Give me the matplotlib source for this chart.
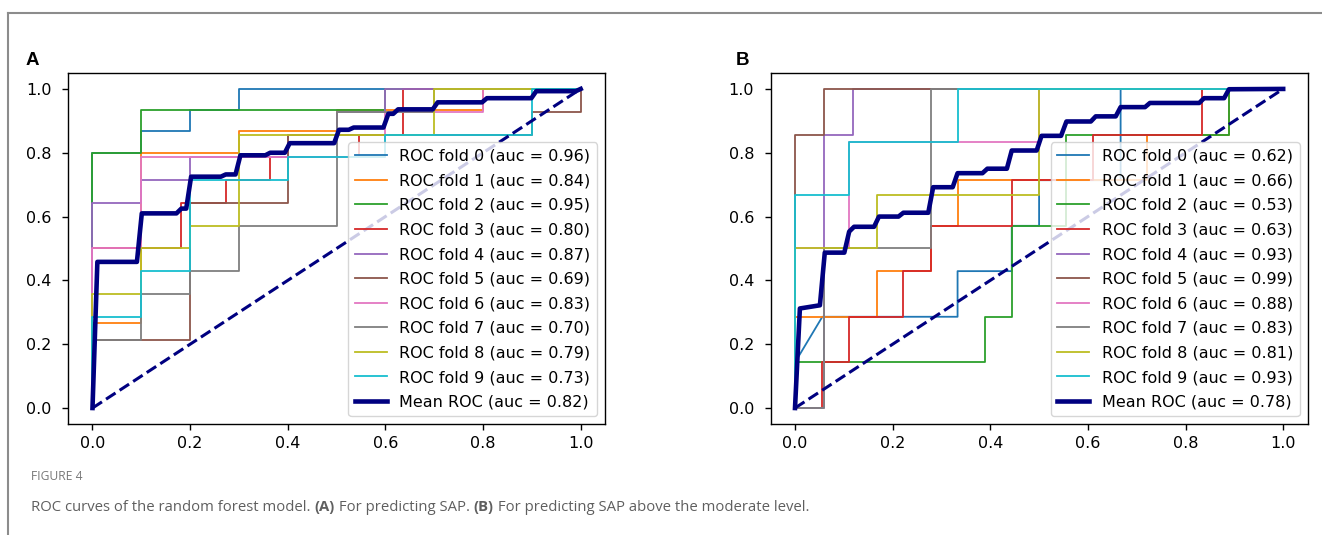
import matplotlib
matplotlib.use("Agg")
import matplotlib.pyplot as plt
from matplotlib.lines import Line2D

# values
auc_a = [0.96, 0.84, 0.95, 0.80, 0.87, 0.69, 0.83, 0.70, 0.79, 0.73]
auc_b = [0.62, 0.66, 0.53, 0.63, 0.93, 0.99, 0.88, 0.83, 0.81, 0.93]
mean_auc_a = 0.82
mean_auc_b = 0.78

# panel A, one step curve per fold
fpr_a = [
    [0, 0, 0.1, 0.1, 0.2, 0.2, 0.3, 0.3, 1.0],
    [0, 0, 0.1, 0.1, 0.3, 0.3, 0.5, 0.5, 0.8, 0.8, 1.0],
    [0, 0, 0.1, 0.1, 0.6, 0.6, 1.0],
    [0, 0, 0.182, 0.182, 0.273, 0.273, 0.364, 0.364, 0.545, 0.545, 0.636, 0.636, 1.0],
    [0, 0, 0.1, 0.1, 0.2, 0.2, 0.4, 0.4, 0.5, 0.5, 0.6, 0.6, 1.0],
    [0, 0, 0.2, 0.2, 0.4, 0.4, 0.9, 0.9, 1.0, 1.0],
    [0, 0, 0.1, 0.1, 0.6, 0.6, 0.8, 0.8, 1.0],
    [0, 0, 0.1, 0.1, 0.2, 0.2, 0.3, 0.3, 0.5, 0.5, 0.7, 0.7, 1.0],
    [0, 0, 0.1, 0.1, 0.2, 0.2, 0.3, 0.3, 0.7, 0.7, 1.0],
    [0, 0, 0.1, 0.1, 0.2, 0.2, 0.4, 0.4, 0.6, 0.6, 0.9, 0.9, 1.0],
]
tpr_a = [
    [0, 0.8, 0.8, 0.867, 0.867, 0.933, 0.933, 1.0, 1.0],
    [0, 0.267, 0.267, 0.8, 0.8, 0.867, 0.867, 0.933, 0.933, 1.0, 1.0],
    [0, 0.8, 0.8, 0.933, 0.933, 1.0, 1.0],
    [0, 0.5, 0.5, 0.643, 0.643, 0.714, 0.714, 0.786, 0.786, 0.857, 0.857, 1.0, 1.0],
    [0, 0.643, 0.643, 0.714, 0.714, 0.786, 0.786, 0.857, 0.857, 0.929, 0.929, 1.0, 1.0],
    [0, 0.214, 0.214, 0.643, 0.643, 0.857, 0.857, 0.929, 0.929, 1.0],
    [0, 0.5, 0.5, 0.786, 0.786, 0.929, 0.929, 1.0, 1.0],
    [0, 0.214, 0.214, 0.357, 0.357, 0.429, 0.429, 0.571, 0.571, 0.929, 0.929, 1.0, 1.0],
    [0, 0.357, 0.357, 0.5, 0.5, 0.571, 0.571, 0.857, 0.857, 1.0, 1.0],
    [0, 0.286, 0.286, 0.429, 0.429, 0.714, 0.714, 0.786, 0.786, 0.857, 0.857, 1.0, 1.0],
]
mean_fpr_a = [0, 0.010, 0.091, 0.101, 0.172, 0.182, 0.192, 0.202, 0.263, 0.273,
              0.293, 0.303, 0.354, 0.364, 0.394, 0.404, 0.495, 0.505, 0.525, 0.535,
              0.596, 0.606, 0.616, 0.626, 0.697, 0.707, 0.798, 0.808, 0.899, 0.909,
              0.990, 1.0]
mean_tpr_a = [0, 0.458, 0.458, 0.610, 0.610, 0.625, 0.625, 0.725, 0.725, 0.732,
              0.732, 0.792, 0.792, 0.800, 0.800, 0.830, 0.830, 0.872, 0.872, 0.879,
              0.879, 0.922, 0.922, 0.936, 0.936, 0.958, 0.958, 0.971, 0.971, 0.993,
              0.993, 1.0]

# panel B
fpr_b = [
    [0, 0, 0.056, 0.333, 0.333, 0.444, 0.444, 0.5, 0.5, 0.667, 0.667, 1.0],
    [0, 0, 0.167, 0.167, 0.278, 0.278, 0.333, 0.333, 0.722, 0.722, 0.889, 0.889, 1.0],
    [0, 0, 0.389, 0.389, 0.444, 0.444, 0.556, 0.556, 0.889, 0.889, 1.0],
    [0, 0.056, 0.056, 0.111, 0.111, 0.222, 0.222, 0.278, 0.278, 0.444, 0.444, 0.611, 0.611, 0.833, 0.833, 1.0],
    [0, 0.059, 0.059, 0.118, 0.118, 1.0],
    [0, 0, 0.059, 0.059, 1.0],
    [0, 0, 0.111, 0.111, 0.5, 0.5, 1.0],
    [0, 0.059, 0.059, 0.278, 0.278, 1.0],
    [0, 0, 0.167, 0.167, 0.5, 0.5, 1.0],
    [0, 0, 0.111, 0.111, 0.333, 0.333, 1.0],
]
tpr_b = [
    [0, 0.143, 0.286, 0.286, 0.429, 0.429, 0.571, 0.571, 0.714, 0.714, 1.0, 1.0],
    [0, 0.286, 0.286, 0.429, 0.429, 0.571, 0.571, 0.714, 0.714, 0.857, 0.857, 1.0, 1.0],
    [0, 0.143, 0.143, 0.286, 0.286, 0.571, 0.571, 0.857, 0.857, 1.0, 1.0],
    [0, 0, 0.143, 0.143, 0.286, 0.286, 0.429, 0.429, 0.571, 0.571, 0.714, 0.714, 0.857, 0.857, 1.0, 1.0],
    [0, 0, 0.857, 0.857, 1.0, 1.0],
    [0, 0.857, 0.857, 1.0, 1.0],
    [0, 0.5, 0.5, 0.833, 0.833, 1.0, 1.0],
    [0, 0, 0.5, 0.5, 1.0, 1.0],
    [0, 0.5, 0.5, 0.667, 0.667, 1.0, 1.0],
    [0, 0.667, 0.667, 0.833, 0.833, 1.0, 1.0],
]
mean_fpr_b = [0, 0.010, 0.051, 0.061, 0.101, 0.111, 0.121, 0.162, 0.172, 0.212,
              0.222, 0.273, 0.283, 0.323, 0.333, 0.384, 0.394, 0.434, 0.444, 0.495,
              0.505, 0.545, 0.556, 0.606, 0.616, 0.657, 0.667, 0.717, 0.727, 0.828,
              0.838, 0.879, 0.889, 1.0]
mean_tpr_b = [0, 0.312, 0.322, 0.487, 0.487, 0.553, 0.568, 0.568, 0.600, 0.600,
              0.612, 0.612, 0.692, 0.692, 0.736, 0.736, 0.750, 0.750, 0.807, 0.807,
              0.853, 0.853, 0.898, 0.898, 0.914, 0.914, 0.943, 0.943, 0.956, 0.956,
              0.971, 0.971, 0.999, 1.0]

plt.rcParams['font.family'] = 'DejaVu Sans'
plt.rcParams['font.size'] = 11.5
plt.rcParams['axes.linewidth'] = 1.0
plt.rcParams['xtick.major.size'] = 4.4
plt.rcParams['ytick.major.size'] = 4.4
plt.rcParams['xtick.major.width'] = 1.0
plt.rcParams['ytick.major.width'] = 1.0
plt.rcParams['xtick.major.pad'] = 4.0
plt.rcParams['ytick.major.pad'] = 7.5


def draw_panel(ax, fprs, tprs, aucs, mfpr, mtpr, mauc):
    for i in range(len(fprs)):
        ax.plot(fprs[i], tprs[i], lw=1.3,
                label="ROC fold %d (auc = %0.2f)" % (i, aucs[i]))
    ax.plot([0, 1], [0, 1], color='navy', lw=2.2, ls='--')
    ax.plot(mfpr, mtpr, color='navy', lw=3.3,
            label="Mean ROC (auc = %0.2f)" % mauc)
    ax.set_xticks([0, 0.2, 0.4, 0.6, 0.8, 1.0])
    ax.set_yticks([0, 0.2, 0.4, 0.6, 0.8, 1.0])
    ax.legend(loc='lower right', labelspacing=0.6)


fig = plt.figure(figsize=(13.22, 5.35), dpi=100)
ax_a = fig.add_axes([0.0515, 0.2075, 0.4062, 0.6561])
ax_b = fig.add_axes([0.5829, 0.2075, 0.4062, 0.6561])
draw_panel(ax_a, fpr_a, tpr_a, auc_a, mean_fpr_a, mean_tpr_a, mean_auc_a)
draw_panel(ax_b, fpr_b, tpr_b, auc_b, mean_fpr_b, mean_tpr_b, mean_auc_b)

# panel letters
fig.text(26 / 1322, 1 - 65 / 535, "A", fontsize=13.5, fontweight='bold',
         family='Liberation Sans')
fig.text(736 / 1322, 1 - 65 / 535, "B", fontsize=13.5, fontweight='bold',
         family='Liberation Sans')

# page frame
fig.add_artist(Line2D([8 / 1322, 1], [1 - 13 / 535, 1 - 13 / 535],
                      color='#8c8c8c', lw=1.5, transform=fig.transFigure))
fig.add_artist(Line2D([8 / 1322, 8 / 1322], [0, 1 - 13 / 535],
                      color='#8c8c8c', lw=1.5, transform=fig.transFigure))

# caption
fig.text(31 / 1322, 1 - 480 / 535, "FIGURE 4", fontsize=8.7, color='#777777',
         family='Open Sans')
renderer = fig.canvas.get_renderer()
parts = [("ROC curves of the random forest model. ", 'normal'),
         ("(A)", 'bold'),
         (" For predicting SAP. ", 'normal'),
         ("(B)", 'bold'),
         (" For predicting SAP above the moderate level.", 'normal')]
xpos = 31
for txt, wt in parts:
    t = fig.text(xpos / 1322, 1 - 511 / 535, txt, fontsize=10.7, color='#5f5f5f',
                 family='Open Sans', fontweight=wt)
    bb = t.get_window_extent(renderer=renderer)
    xpos = xpos + bb.width

fig.savefig("out.png", dpi=100)
